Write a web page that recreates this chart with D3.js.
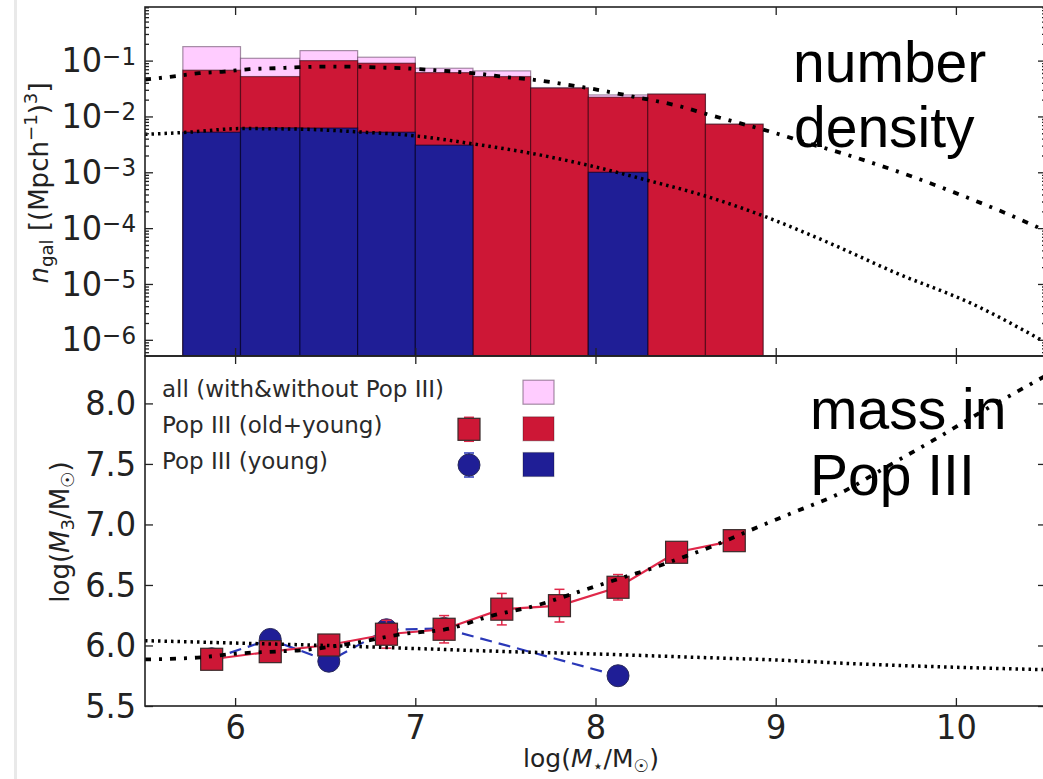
<!DOCTYPE html>
<html>
<head>
<meta charset="utf-8">
<script src="https://cdn.jsdelivr.net/npm/d3@7"></script>
<style>
body { margin: 0; background: #fff; }
svg { display: block; }
</style>
</head>
<body>
<div id="chart"></div>
<script>
// ---- data ----
// histogram bin edges, log(M*/Msun)
var binEdges = [5.71, 6.03, 6.36, 6.68, 7.0, 7.32, 7.64, 7.96, 8.29, 8.61, 8.93];
// number density per bin [(Mpc/h)^-3]
var nAll   = [0.178, 0.110, 0.151, 0.115, 0.073, 0.0655, 0.0329, 0.0243, 0.0251, 0.00726];
var nPop3  = [0.0673, 0.0518, 0.100, 0.0898, 0.061, 0.0518, 0.0321, 0.0221, 0.0251, 0.00726];
var nYoung = [0.00522, 0.00624, 0.0062, 0.00522, 0.00306, null, null, 0.001, null, null];

// fits in the top panel: [log M*, log10 n]
var fitAllTop = [[5.5, -1.34], [5.65, -1.286], [5.80, -1.226], [5.94, -1.197], [6.08, -1.154],
    [6.22, -1.137], [6.36, -1.118], [6.51, -1.107], [6.65, -1.107], [6.80, -1.125], [6.93, -1.136],
    [7.08, -1.166], [7.22, -1.197], [7.36, -1.238], [7.51, -1.297], [7.66, -1.345], [7.93, -1.476],
    [8.21, -1.645], [8.47, -1.82], [8.62, -1.96], [8.80, -2.12], [8.99, -2.29], [9.17, -2.47],
    [9.39, -2.68], [9.58, -2.88], [9.76, -3.08], [9.99, -3.36], [10.23, -3.67], [10.5, -4.05]];
var fitYoungTop = [[5.5, -2.32], [5.71, -2.289], [6.04, -2.217], [6.36, -2.228], [6.68, -2.276],
    [7.0, -2.348], [7.32, -2.491], [7.64, -2.658], [7.95, -2.867], [8.28, -3.136], [8.62, -3.435],
    [8.93, -3.78], [9.30, -4.27], [9.67, -4.806], [10.08, -5.34], [10.5, -6.05]];

// mass in Pop III, log(M3/Msun)
var pop3X   = [5.87, 6.195, 6.52, 6.84, 7.16, 7.48, 7.80, 8.125, 8.45, 8.77];
var pop3M   = [5.886, 5.949, 6.004, 6.093, 6.134, 6.30, 6.329, 6.481, 6.770, 6.866];
var pop3Err = [0.02, 0.03, 0.03, 0.115, 0.113, 0.13, 0.135, 0.105, 0.05, 0.04];
var youngX   = [5.87, 6.195, 6.52, 6.84, 7.16, 8.125];
var youngM   = [5.89, 6.05, 5.87, 6.13, 6.14, 5.75];
var youngErr = [0.03, 0.04, 0.04, 0.08, 0.05, 0.03];

// fits in the bottom panel: [log M*, log M3]
var fitAllBot = [[5.5, 5.885], [5.79, 5.90], [6.03, 5.935], [6.23, 5.95], [6.36, 5.96], [6.66, 6.02],
    [6.93, 6.095], [7.19, 6.14], [7.41, 6.24], [7.67, 6.33], [7.91, 6.445], [8.17, 6.57], [8.32, 6.64],
    [8.45, 6.71], [8.65, 6.82], [8.84, 6.94], [9.10, 7.10], [9.36, 7.26], [9.62, 7.48], [9.88, 7.70],
    [10.13, 7.92], [10.5, 8.23]];
var fitYoungBot = [[5.5, 6.04], [6.0, 6.02], [6.5, 6.0], [7.0, 5.975], [7.5, 5.95], [8.0, 5.93],
    [8.5, 5.905], [9.0, 5.88], [9.5, 5.845], [10.0, 5.82], [10.5, 5.80]];

var xTicks = [6, 7, 8, 9, 10];
var yTopTicks = [1e-6, 1e-5, 1e-4, 1e-3, 1e-2, 1e-1];
var yBotTicks = [5.5, 6.0, 6.5, 7.0, 7.5, 8.0];
var legendLabels = ["all (with&without Pop III)", "Pop III (old+young)", "Pop III (young)"];

// ---- layout ----
var width = 1043, height = 779;
var plotLeft = 145, plotRight = 1046, plotTop = 7, plotMid = 356, plotBottom = 706;

var cPink = "#ffccff", cRed = "#cd1736", cBlue = "#1f1e96",
    cRedLine = "#e0284a", cBlueLine = "#2a38b8", ink = "#222";

var svg = d3.select("#chart").append("svg")
    .attr("width", width)
    .attr("height", height)
    .style("font-family", "'DejaVu Sans', sans-serif");

svg.append("rect").attr("width", width).attr("height", height).attr("fill", "#fff");
// grey page edge of the screenshot
svg.append("rect").attr("x", 14).attr("y", 0).attr("width", 3).attr("height", height).attr("fill", "#e9e9e9");

var X = d3.scaleLinear().domain([5.5, 10.5]).range([plotLeft, plotRight]);
var Ytop = d3.scaleLog().domain([Math.pow(10, -6.29), Math.pow(10, -0.04)]).range([plotMid, plotTop]);
var Ybot = d3.scaleLinear().domain([5.5, 8.4]).range([plotBottom, 355]);

var defs = svg.append("defs");
defs.append("clipPath").attr("id", "clipTop").append("rect")
    .attr("x", plotLeft).attr("y", plotTop).attr("width", plotRight - plotLeft).attr("height", plotMid - plotTop);
defs.append("clipPath").attr("id", "clipBot").append("rect")
    .attr("x", plotLeft).attr("y", plotMid).attr("width", plotRight - plotLeft).attr("height", plotBottom - plotMid);

// ---- top panel: histograms ----
var gTop = svg.append("g").attr("clip-path", "url(#clipTop)");

function drawBars(values, fill, edge) {
    var bars = values.map(function(v, i) {
        return {v: v, x0: binEdges[i], x1: binEdges[i + 1]};
    }).filter(function(d) { return d.v; });
    gTop.selectAll(null).data(bars).enter().append("rect")
        .attr("x", function(d) { return X(d.x0); })
        .attr("width", function(d) { return X(d.x1) - X(d.x0); })
        .attr("y", function(d) { return Ytop(d.v); })
        .attr("height", function(d) { return plotMid - Ytop(d.v); })
        .attr("fill", fill)
        .attr("stroke", edge)
        .attr("stroke-width", 1.2);
}
drawBars(nAll, cPink, "rgba(90,60,90,0.55)");
drawBars(nPop3, cRed, "rgba(40,0,10,0.55)");
drawBars(nYoung, cBlue, "rgba(0,0,30,0.6)");

var lineTop = d3.line()
    .x(function(d) { return X(d[0]); })
    .y(function(d) { return Ytop(Math.pow(10, d[1])); })
    .curve(d3.curveMonotoneX);

gTop.append("path").attr("d", lineTop(fitYoungTop))
    .attr("fill", "none").attr("stroke", "#000").attr("stroke-width", 3.5)
    .attr("stroke-dasharray", "2.5,4");
gTop.append("path").attr("d", lineTop(fitAllTop))
    .attr("fill", "none").attr("stroke", "#000").attr("stroke-width", 3.8)
    .attr("stroke-dasharray", "6,8,3,8");

// ---- bottom panel ----
var gBot = svg.append("g").attr("clip-path", "url(#clipBot)");

var lineBot = d3.line()
    .x(function(d) { return X(d[0]); })
    .y(function(d) { return Ybot(d[1]); });

function errorBars(g, xs, ms, es, color) {
    xs.forEach(function(x, i) {
        var cx = X(x), y0 = Ybot(ms[i] - es[i]), y1 = Ybot(ms[i] + es[i]);
        g.append("line").attr("x1", cx).attr("x2", cx).attr("y1", y0).attr("y2", y1)
            .attr("stroke", color).attr("stroke-width", 1.5);
        [y0, y1].forEach(function(y) {
            g.append("line").attr("x1", cx - 5).attr("x2", cx + 5).attr("y1", y).attr("y2", y)
                .attr("stroke", color).attr("stroke-width", 1.5);
        });
    });
}

// young Pop III: dashed blue with circles
var youngPts = youngX.map(function(x, i) { return [x, youngM[i]]; });
gBot.append("path").attr("d", lineBot(youngPts))
    .attr("fill", "none").attr("stroke", cBlueLine).attr("stroke-width", 2.2)
    .attr("stroke-dasharray", "12,7");
errorBars(gBot, youngX, youngM, youngErr, cBlueLine);
gBot.selectAll(null).data(youngPts).enter().append("circle")
    .attr("cx", function(d) { return X(d[0]); })
    .attr("cy", function(d) { return Ybot(d[1]); })
    .attr("r", 11)
    .attr("fill", cBlue)
    .attr("stroke", "#2a2a5a").attr("stroke-width", 1);

// old+young Pop III: red line with squares
var pop3Pts = pop3X.map(function(x, i) { return [x, pop3M[i]]; });
gBot.append("path").attr("d", lineBot(pop3Pts))
    .attr("fill", "none").attr("stroke", cRedLine).attr("stroke-width", 2.2);
errorBars(gBot, pop3X, pop3M, pop3Err, cRedLine);
gBot.selectAll(null).data(pop3Pts).enter().append("rect")
    .attr("x", function(d) { return X(d[0]) - 11; })
    .attr("y", function(d) { return Ybot(d[1]) - 11; })
    .attr("width", 22).attr("height", 22)
    .attr("fill", cRed)
    .attr("stroke", "#3a2a2a").attr("stroke-width", 1.2);

// fits drawn over the points
var lineBotCurve = d3.line()
    .x(function(d) { return X(d[0]); })
    .y(function(d) { return Ybot(d[1]); })
    .curve(d3.curveMonotoneX);
gBot.append("path").attr("d", lineBotCurve(fitYoungBot))
    .attr("fill", "none").attr("stroke", "#000").attr("stroke-width", 3.5)
    .attr("stroke-dasharray", "2.5,4");
gBot.append("path").attr("d", lineBotCurve(fitAllBot))
    .attr("fill", "none").attr("stroke", "#000").attr("stroke-width", 3.8)
    .attr("stroke-dasharray", "6,8,3,8");

// ---- axes ----
function styleAxis(g) {
    g.select(".domain").remove();
    g.selectAll(".tick line").attr("stroke", ink).attr("stroke-width", 1.3);
    g.attr("font-family", "'DejaVu Sans', sans-serif").attr("font-size", 32);
    g.selectAll("text").attr("fill", ink).attr("transform", "scale(1,1.08)");
}
function noLabels(g) { g.selectAll("text").remove(); }

var minorTop = [];
for (var e = -7; e <= 0; e++) {
    for (var m = 2; m <= 9; m++) {
        var v = m * Math.pow(10, e);
        if (v > Ytop.domain()[0] && v < Ytop.domain()[1]) minorTop.push(v);
    }
}

// top panel, left
svg.append("g").attr("transform", "translate(" + plotLeft + ",0)")
    .call(d3.axisLeft(Ytop).tickValues(yTopTicks).tickSizeInner(-8).tickSizeOuter(0).tickPadding(9))
    .call(styleAxis)
    .call(function(g) {
        g.selectAll("text").each(function(d) {
            var t = d3.select(this).text(null);
            t.append("tspan").text("10");
            t.append("tspan").attr("dy", -7).attr("font-size", 23)
                .text("\u2212" + Math.round(-Math.log10(d)));
        });
    });
svg.append("g").attr("transform", "translate(" + plotLeft + ",0)")
    .call(d3.axisLeft(Ytop).tickValues(minorTop).tickSizeInner(-4).tickSizeOuter(0))
    .call(styleAxis).call(noLabels);
// top panel, right
svg.append("g").attr("transform", "translate(" + plotRight + ",0)")
    .call(d3.axisRight(Ytop).tickValues(yTopTicks).tickSizeInner(-8).tickSizeOuter(0))
    .call(styleAxis).call(noLabels);
svg.append("g").attr("transform", "translate(" + plotRight + ",0)")
    .call(d3.axisRight(Ytop).tickValues(minorTop).tickSizeInner(-4).tickSizeOuter(0))
    .call(styleAxis).call(noLabels);
// top panel, top and bottom x ticks
svg.append("g").attr("transform", "translate(0," + plotTop + ")")
    .call(d3.axisTop(X).tickValues(xTicks).tickSizeInner(-8).tickSizeOuter(0))
    .call(styleAxis).call(noLabels);
svg.append("g").attr("transform", "translate(0," + plotMid + ")")
    .call(d3.axisBottom(X).tickValues(xTicks).tickSizeInner(-8).tickSizeOuter(0))
    .call(styleAxis).call(noLabels);
svg.append("g").attr("transform", "translate(0," + plotMid + ")")
    .call(d3.axisTop(X).tickValues(xTicks).tickSizeInner(-8).tickSizeOuter(0))
    .call(styleAxis).call(noLabels);

// bottom panel
svg.append("g").attr("transform", "translate(0," + plotBottom + ")")
    .call(d3.axisBottom(X).tickValues(xTicks).tickSizeInner(-8).tickSizeOuter(0).tickPadding(8)
        .tickFormat(d3.format("d")))
    .call(styleAxis);
svg.append("g").attr("transform", "translate(" + plotLeft + ",0)")
    .call(d3.axisLeft(Ybot).tickValues(yBotTicks).tickSizeInner(-8).tickSizeOuter(0).tickPadding(9)
        .tickFormat(d3.format(".1f")))
    .call(styleAxis);
svg.append("g").attr("transform", "translate(" + plotRight + ",0)")
    .call(d3.axisRight(Ybot).tickValues(yBotTicks).tickSizeInner(-8).tickSizeOuter(0))
    .call(styleAxis).call(noLabels);

// frames
[[plotTop, plotMid], [plotMid, plotBottom]].forEach(function(p) {
    svg.append("rect").attr("x", plotLeft).attr("y", p[0])
        .attr("width", plotRight - plotLeft).attr("height", p[1] - p[0])
        .attr("fill", "none").attr("stroke", ink).attr("stroke-width", 1.6);
});

// ---- axis titles ----
function richText(sel, parts, size) {
    var shift = 0;
    parts.forEach(function(p) {
        var target = p[1] === "sub" ? size * 0.2 : (p[1] === "sup" ? -size * 0.42 : 0);
        var t = sel.append("tspan").text(p[0]).attr("dy", target - shift);
        shift = target;
        if (p[1] === "sub" || p[1] === "sup") t.attr("font-size", size * 0.7);
        if (p[2]) t.attr("font-style", "italic");
    });
}

var yLabTop = svg.append("text")
    .attr("transform", "translate(48,183) rotate(-90)")
    .attr("text-anchor", "middle").attr("font-size", 26).attr("fill", ink);
richText(yLabTop, [["n", "", true], ["gal", "sub"], [" [(Mpch", ""], ["\u22121", "sup"], [")", ""],
    ["3", "sup"], ["]", ""]], 26);

var yLabBot = svg.append("text")
    .attr("transform", "translate(69,532) rotate(-90)")
    .attr("text-anchor", "middle").attr("font-size", 26).attr("fill", ink);
richText(yLabBot, [["log(", ""], ["M", "", true], ["3", "sub"], ["/M", ""], ["\u2609", "sub"],
    [")", ""]], 26);

var xLab = svg.append("text")
    .attr("x", 591).attr("y", 767)
    .attr("text-anchor", "middle").attr("font-size", 25).attr("fill", ink);
richText(xLab, [["log(", ""], ["M", "", true], ["\u22c6", "sub"], ["/M", ""], ["\u2609", "sub"],
    [")", ""]], 25);

// ---- legend ----
var legendY = [396.7, 433.3, 469];
svg.selectAll(null).data(legendLabels).enter().append("text")
    .attr("x", 162).attr("y", function(d, i) { return legendY[i]; })
    .attr("font-size", 23).attr("fill", "#2a2a2a")
    .text(function(d) { return d; });

var patchColors = [cPink, cRed, cBlue];
svg.selectAll(null).data(patchColors).enter().append("rect")
    .attr("x", 523).attr("y", function(d, i) { return legendY[i] - 16.5; })
    .attr("width", 31).attr("height", 24)
    .attr("fill", function(d) { return d; })
    .attr("stroke", function(d, i) { return i === 0 ? "rgba(90,60,90,0.55)" : "rgba(0,0,0,0.25)"; })
    .attr("stroke-width", 1.2);

[[legendY[1] - 4, cRedLine], [legendY[2] - 4, cBlueLine]].forEach(function(p) {
    svg.append("line").attr("x1", 469).attr("x2", 469).attr("y1", p[0] - 12).attr("y2", p[0] + 12)
        .attr("stroke", p[1]).attr("stroke-width", 1.5);
    [p[0] - 12, p[0] + 12].forEach(function(y) {
        svg.append("line").attr("x1", 464).attr("x2", 474).attr("y1", y).attr("y2", y)
            .attr("stroke", p[1]).attr("stroke-width", 1.5);
    });
});
svg.append("rect").attr("x", 458).attr("y", legendY[1] - 15).attr("width", 22).attr("height", 22)
    .attr("fill", cRed).attr("stroke", "#3a2a2a").attr("stroke-width", 1.2);
svg.append("circle").attr("cx", 469).attr("cy", legendY[2] - 4).attr("r", 11)
    .attr("fill", cBlue).attr("stroke", "#2a2a5a").attr("stroke-width", 1);

// ---- panel annotations ----
var notes = [["number", 793, 82], ["density", 794, 147], ["mass in", 810, 429], ["Pop III", 810, 495]];
svg.selectAll(null).data(notes).enter().append("text")
    .attr("x", function(d) { return d[1]; })
    .attr("y", function(d) { return d[2]; })
    .attr("font-family", "'Liberation Sans', Arial, sans-serif")
    .attr("font-size", 57).attr("fill", "#000")
    .text(function(d) { return d[0]; });
</script>
</body>
</html>
